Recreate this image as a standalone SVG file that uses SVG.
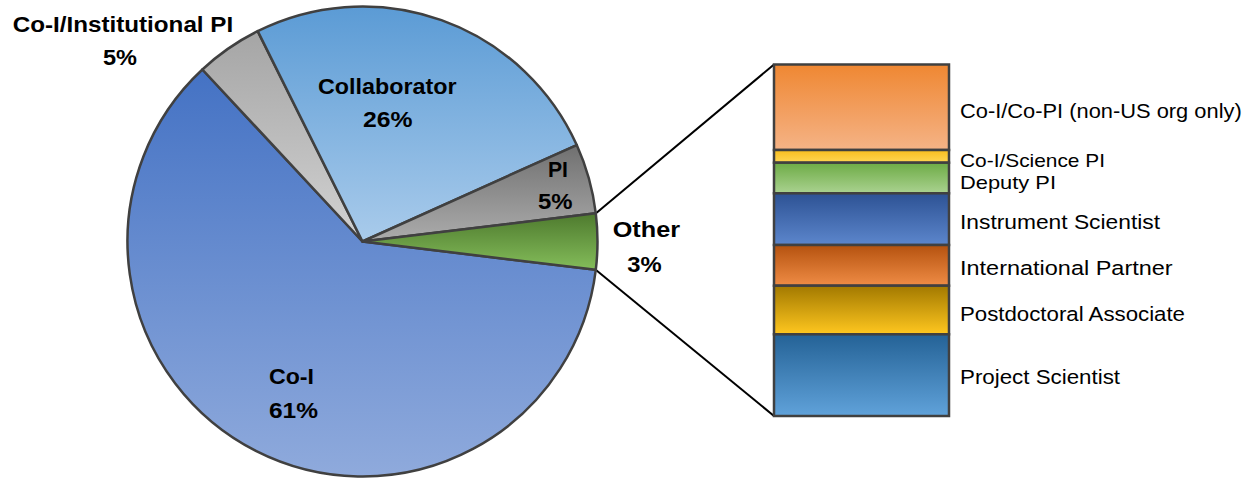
<svg xmlns="http://www.w3.org/2000/svg" width="1255" height="481" viewBox="0 0 1255 481">
<defs>
<linearGradient id="gCoI" x1="0" y1="0" x2="0" y2="1"><stop offset="0" stop-color="#4472c4"/><stop offset="1" stop-color="#8faadc"/></linearGradient>
<linearGradient id="gInst" x1="0" y1="0" x2="0" y2="1"><stop offset="0" stop-color="#a5a5a5"/><stop offset="1" stop-color="#d2d2d2"/></linearGradient>
<linearGradient id="gCollab" x1="0" y1="0" x2="0" y2="1"><stop offset="0" stop-color="#5b9bd5"/><stop offset="1" stop-color="#a9cbeb"/></linearGradient>
<linearGradient id="gPI" x1="0" y1="0" x2="0" y2="1"><stop offset="0" stop-color="#707070"/><stop offset="1" stop-color="#acacac"/></linearGradient>
<linearGradient id="gOther" x1="0" y1="0" x2="0" y2="1"><stop offset="0" stop-color="#4e7a2e"/><stop offset="1" stop-color="#84bd5a"/></linearGradient>
<linearGradient id="b1" x1="0" y1="0" x2="0" y2="1"><stop offset="0" stop-color="#ef8732"/><stop offset="1" stop-color="#f5b386"/></linearGradient>
<linearGradient id="b2" x1="0" y1="0" x2="0" y2="1"><stop offset="0" stop-color="#f8bd1e"/><stop offset="1" stop-color="#ffd653"/></linearGradient>
<linearGradient id="b3" x1="0" y1="0" x2="0" y2="1"><stop offset="0" stop-color="#6dab45"/><stop offset="1" stop-color="#aad290"/></linearGradient>
<linearGradient id="b4" x1="0" y1="0" x2="0" y2="1"><stop offset="0" stop-color="#2d5294"/><stop offset="1" stop-color="#5c86cc"/></linearGradient>
<linearGradient id="b5" x1="0" y1="0" x2="0" y2="1"><stop offset="0" stop-color="#b5520f"/><stop offset="1" stop-color="#ef8c45"/></linearGradient>
<linearGradient id="b6" x1="0" y1="0" x2="0" y2="1"><stop offset="0" stop-color="#a27900"/><stop offset="1" stop-color="#ffc71f"/></linearGradient>
<linearGradient id="b7" x1="0" y1="0" x2="0" y2="1"><stop offset="0" stop-color="#246296"/><stop offset="1" stop-color="#60a2da"/></linearGradient>
</defs>
<style>
.slice{stroke:#404040;stroke-width:2.5;stroke-linejoin:round}
.seg{stroke:#404040;stroke-width:2.5}
.conn{stroke:#000;stroke-width:2;fill:none}
.bl{font-family:"Liberation Sans",Arial,sans-serif;font-weight:bold;font-size:21.5px;fill:#000}
.rl{font-family:"Liberation Sans",Arial,sans-serif;font-size:20.5px;fill:#000}
.rs{font-family:"Liberation Sans",Arial,sans-serif;font-size:18.5px;fill:#000}
</style>
<rect width="1255" height="481" fill="#fff"/>
<g id="connectors">
<line class="conn" x1="596" y1="213.3" x2="774" y2="64.5"/>
<line class="conn" x1="596" y1="269.9" x2="774" y2="416"/>
</g>
<g id="slice-coi">
<path class="slice" fill="url(#gCoI)" d="M362.5 241.5 L595.78 269.86 A235 235 0 1 1 202.39 69.48 Z"/>
<text class="bl" x="269" y="384.3" textLength="45" lengthAdjust="spacingAndGlyphs">Co-I</text>
<text class="bl" x="269" y="418.3" textLength="49" lengthAdjust="spacingAndGlyphs">61%</text>
</g>
<g id="slice-inst">
<path class="slice" fill="url(#gInst)" d="M362.5 241.5 L202.39 69.48 A235 235 0 0 1 257.72 31.15 Z"/>
<text class="bl" x="12.7" y="31.7" textLength="220.5" lengthAdjust="spacingAndGlyphs">Co-I/Institutional PI</text>
<text class="bl" x="103" y="65" textLength="34" lengthAdjust="spacingAndGlyphs">5%</text>
</g>
<g id="slice-collab">
<path class="slice" fill="url(#gCollab)" d="M362.5 241.5 L257.72 31.15 A235 235 0 0 1 576.76 145.02 Z"/>
<text class="bl" x="318" y="94" textLength="138.5" lengthAdjust="spacingAndGlyphs">Collaborator</text>
<text class="bl" x="363" y="126.7" textLength="49.5" lengthAdjust="spacingAndGlyphs">26%</text>
</g>
<g id="slice-pi">
<path class="slice" fill="url(#gPI)" d="M362.5 241.5 L576.76 145.02 A235 235 0 0 1 595.80 213.31 Z"/>
<text class="bl" x="548" y="176.7" textLength="20" lengthAdjust="spacingAndGlyphs">PI</text>
<text class="bl" x="538" y="209.3" textLength="34.5" lengthAdjust="spacingAndGlyphs">5%</text>
</g>
<g id="slice-other">
<path class="slice" fill="url(#gOther)" d="M362.5 241.5 L595.80 213.31 A235 235 0 0 1 595.78 269.86 Z"/>
<text class="bl" x="612.7" y="237.3" textLength="67.3" lengthAdjust="spacingAndGlyphs">Other</text>
<text class="bl" x="627.3" y="272.3" textLength="34.4" lengthAdjust="spacingAndGlyphs">3%</text>
</g>
<g id="bar">
<g id="seg-coi-copi">
<rect class="seg" x="774" y="64.5" width="175" height="85.5" fill="url(#b1)"/>
<text class="rl" x="960" y="118.3" textLength="281.7" lengthAdjust="spacingAndGlyphs">Co-I/Co-PI  (non-US org only)</text>
</g>
<g id="seg-science-pi">
<rect class="seg" x="774" y="150" width="175" height="12.7" fill="url(#b2)"/>
<text class="rs" x="960" y="167.3" textLength="145" lengthAdjust="spacingAndGlyphs">Co-I/Science  PI</text>
</g>
<g id="seg-deputy-pi">
<rect class="seg" x="774" y="162.7" width="175" height="30.6" fill="url(#b3)"/>
<text class="rs" x="960" y="188.6" textLength="96" lengthAdjust="spacingAndGlyphs">Deputy PI</text>
</g>
<g id="seg-instrument">
<rect class="seg" x="774" y="193.3" width="175" height="51.7" fill="url(#b4)"/>
<text class="rl" x="960" y="229" textLength="200" lengthAdjust="spacingAndGlyphs">Instrument Scientist</text>
</g>
<g id="seg-international">
<rect class="seg" x="774" y="245" width="175" height="40.7" fill="url(#b5)"/>
<text class="rl" x="960" y="275" textLength="212.7" lengthAdjust="spacingAndGlyphs">International Partner</text>
</g>
<g id="seg-postdoc">
<rect class="seg" x="774" y="285.7" width="175" height="48.6" fill="url(#b6)"/>
<text class="rl" x="960" y="320.7" textLength="225" lengthAdjust="spacingAndGlyphs">Postdoctoral Associate</text>
</g>
<g id="seg-project">
<rect class="seg" x="774" y="334.3" width="175" height="81.7" fill="url(#b7)"/>
<text class="rl" x="960" y="384.3" textLength="160" lengthAdjust="spacingAndGlyphs">Project Scientist</text>
</g>
</g>
</svg>
